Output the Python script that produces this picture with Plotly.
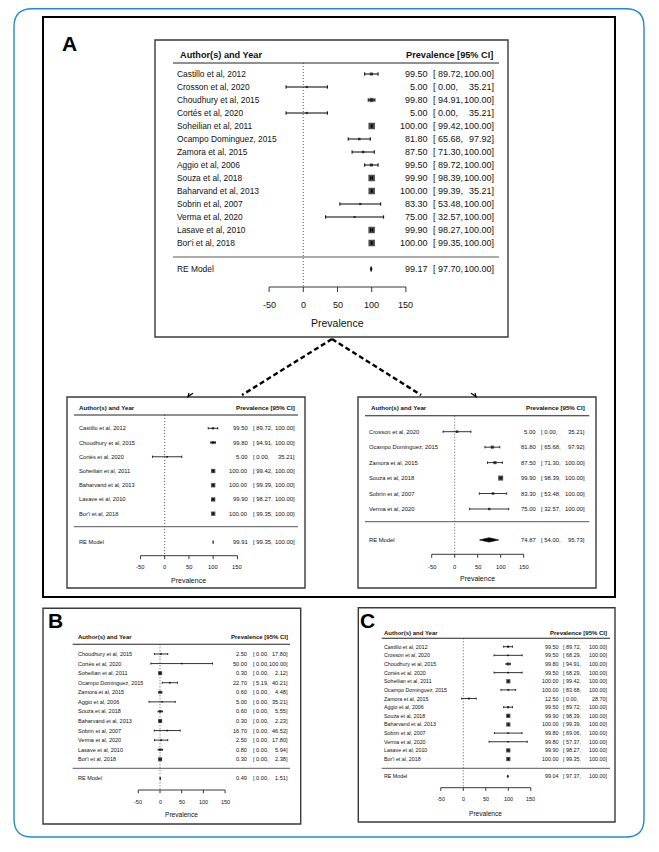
import plotly.graph_objects as go

W, H = 659, 852
FONT = "Liberation Sans, Arial, sans-serif"

# ---------------- data ----------------
axis_ticks = [-50, 0, 50, 100, 150]

a_studies = ["Castillo et al, 2012", "Crosson et al, 2020", "Choudhury et al, 2015", "Cortés et al, 2020",
             "Soheilian et al, 2011", "Ocampo Dominguez, 2015", "Zamora et al, 2015", "Aggio et al, 2006",
             "Souza et al, 2018", "Baharvand et al, 2013", "Sobrin et al, 2007", "Verma et al, 2020",
             "Lasave et al, 2010", "Bor'i et al, 2018"]
a_est = [99.50, 5.00, 99.80, 5.00, 100.00, 81.80, 87.50, 99.50, 99.90, 100.00, 83.30, 75.00, 99.90, 100.00]
a_lo = [89.72, 0.00, 94.91, 0.00, 99.42, 65.68, 71.30, 89.72, 98.39, 99.39, 53.48, 32.57, 98.27, 99.35]
a_hi = [100.00, 35.21, 100.00, 35.21, 100.00, 97.92, 100.00, 100.00, 100.00, 35.21, 100.00, 100.00, 100.00, 100.00]
a_re = (99.17, 97.70, 100.00)

l_studies = ["Castillo et al, 2012", "Choudhury et al, 2015", "Cortés et al, 2020", "Soheilian et al, 2011",
             "Baharvand et al, 2013", "Lasave et al, 2010", "Bor'i et al, 2018"]
l_est = [99.50, 99.80, 5.00, 100.00, 100.00, 99.90, 100.00]
l_lo = [89.72, 94.91, 0.00, 99.42, 99.39, 98.27, 99.35]
l_hi = [100.00, 100.00, 35.21, 100.00, 100.00, 100.00, 100.00]
l_re = (99.91, 99.35, 100.00)

r_studies = ["Crosson et al, 2020", "Ocampo Dominguez, 2015", "Zamora et al, 2015", "Souza et al, 2018",
             "Sobrin et al, 2007", "Verma et al, 2020"]
r_est = [5.00, 81.80, 87.50, 99.90, 83.30, 75.00]
r_lo = [0.00, 65.68, 71.30, 98.39, 53.48, 32.57]
r_hi = [35.21, 97.92, 100.00, 100.00, 100.00, 100.00]
r_re = (74.87, 54.00, 95.73)

b_studies = ["Choudhury et al, 2015", "Cortés et al, 2020", "Soheilian et al, 2011", "Ocampo Dominguez, 2015",
             "Zamora et al, 2015", "Aggio et al, 2006", "Souza et al, 2018", "Baharvand et al, 2013",
             "Sobrin et al, 2007", "Verma et al, 2020", "Lasave et al, 2010", "Bor'i et al, 2018"]
b_est = [2.50, 50.00, 0.30, 22.70, 0.60, 5.00, 0.60, 0.30, 16.70, 2.50, 0.80, 0.30]
b_lo = [0.00, 0.00, 0.00, 5.19, 0.00, 0.00, 0.00, 0.00, 0.00, 0.00, 0.00, 0.00]
b_hi = [17.80, 100.00, 2.12, 40.21, 4.48, 35.21, 5.55, 2.23, 46.52, 17.80, 5.94, 2.38]
b_re = (0.49, 0.00, 1.51)
# drawn (untruncated) half-width where the printed CI is clipped on both sides
b_drawn_halfwidth = {"Cortés et al, 2020": 71.0}

c_studies = list(a_studies)
c_est = [99.50, 99.50, 99.80, 99.50, 100.00, 100.00, 12.50, 99.50, 99.90, 100.00, 99.80, 99.80, 99.90, 100.00]
c_lo = [89.72, 68.29, 94.91, 68.29, 99.42, 83.68, 0.00, 89.72, 98.39, 99.39, 69.06, 57.37, 98.27, 99.35]
c_hi = [100.00, 100.00, 100.00, 100.00, 100.00, 100.00, 28.70, 100.00, 100.00, 100.00, 100.00, 100.00, 100.00, 100.00]
c_re = (99.04, 97.37, 100.00)

# ---------------- layout geometry (pixels) ----------------
GEOM = {
    "T": dict(box=(155, 40, 508, 337), zero=303.3, px50=34.2, row0=74.0, rowh=13.0,
              head_y=55, hline_y=63, line_x=(173, 499), name_x=176, head_l=179, head_r=494,
              est_r=429, lb_x=432, rb_x=495, sep_y=257, axis_y=287, tick=5, ticklab_y=305, title_y=323,
              fs=8.4, vfs=9.0, hfs=9.2, afs=9.0, tfs=10.5, ciw=1.0, cap=1.7, smin=1.8, k=12, smax=6.5, dh=2.6),
    "L": dict(box=(67, 397, 305, 588), zero=164.7, px50=24.25, row0=428.3, rowh=14.23,
              head_y=407.7, hline_y=415, line_x=(74, 298), name_x=77.7, head_l=77.7, head_r=295.7,
              est_r=249, lb_x=251.5, rb_x=295.5, sep_y=526.7, axis_y=555.7, tick=3.5, ticklab_y=567.3, title_y=580,
              fs=5.7, vfs=5.9, hfs=6.2, afs=5.8, tfs=7.0, ciw=0.8, cap=1.2, smin=1.5, k=8, smax=4.3, dh=1.6),
    "R": dict(box=(358, 397, 596, 588), zero=454.7, px50=23.0, row0=431.7, rowh=15.46,
              head_y=407.7, hline_y=415.7, line_x=(365, 589.3), name_x=368.3, head_l=370, head_r=585.7,
              est_r=536.7, lb_x=540, rb_x=585.7, sep_y=521.7, axis_y=554.3, tick=3.5, ticklab_y=566.7, title_y=578.3,
              fs=5.8, vfs=5.9, hfs=6.2, afs=5.8, tfs=7.0, ciw=0.8, cap=1.2, smin=2.0, k=18, smax=5.0, dh=2.2),
    "B": dict(box=(43, 608.3, 300.7, 824), zero=160.0, px50=21.7, row0=654.0, rowh=9.57,
              head_y=637.3, hline_y=644.3, line_x=(72.7, 290), name_x=76.7, head_l=76.7, head_r=289.3,
              est_r=248.3, lb_x=251.5, rb_x=289.3, sep_y=768.3, axis_y=790, tick=3.2, ticklab_y=801.7, title_y=814.3,
              fs=5.5, vfs=5.6, hfs=6.0, afs=5.5, tfs=6.6, ciw=0.8, cap=1.0, smin=1.5, k=6, smax=4.0, dh=1.4),
    "C": dict(box=(358.3, 607.7, 615, 822), zero=463.3, px50=22.5, row0=646.7, rowh=8.64,
              head_y=633.3, hline_y=638.3, line_x=(381.7, 610), name_x=383.3, head_l=383.3, head_r=608.3,
              est_r=560, lb_x=562.3, rb_x=608.3, sep_y=768.3, axis_y=787.7, tick=3.2, ticklab_y=799.3, title_y=813.3,
              fs=5.3, vfs=5.4, hfs=6.0, afs=5.5, tfs=6.6, ciw=0.8, cap=1.0, smin=1.5, k=7, smax=4.2, dh=1.4),
}


def fx(px):
    return px / W


def fy(py):
    return 1 - py / H


fig = go.Figure()
shapes = []
annotations = []
axes = {}


def text(t, x, y, size, anchor="left", bold=False, xref="paper", yref="paper", color="#111"):
    annotations.append(dict(text=f"<b>{t}</b>" if bold else t, x=x, y=y, xref=xref, yref=yref,
                            xanchor=anchor, yanchor="middle", showarrow=False, borderpad=0,
                            font=dict(family=FONT, size=size, color=color)))


def hline(xa, xb, y, color="#333", width=1.0, xref="paper", dash=None):
    d = dict(type="line", xref=xref, yref="paper", x0=xa, x1=xb, y0=fy(y), y1=fy(y),
             line=dict(color=color, width=width))
    if dash:
        d["line"]["dash"] = dash
    shapes.append(d)


def forest(i, studies, est, lo, hi, re, g, hw_override=None):
    xr = "x" if i == 1 else f"x{i}"
    yr = "y" if i == 1 else f"y{i}"
    suf = "" if i == 1 else str(i)
    x0, y0, x1, y1 = g["box"]
    ppu = g["px50"] / 50.0
    row0, rowh = g["row0"], g["rowh"]
    axes[f"xaxis{suf}"] = dict(domain=[fx(x0), fx(x1)], range=[(x0 - g["zero"]) / ppu, (x1 - g["zero"]) / ppu],
                               visible=False, fixedrange=True, anchor=yr)
    axes[f"yaxis{suf}"] = dict(domain=[fy(y1), fy(y0)], range=[(y1 - row0) / rowh, (y0 - row0) / rowh],
                               visible=False, fixedrange=True, anchor=xr)

    # panel frame
    shapes.append(dict(type="rect", xref="paper", yref="paper", x0=fx(x0), x1=fx(x1), y0=fy(y1), y1=fy(y0),
                       line=dict(color="#3a3a3a", width=1.4), fillcolor="white", layer="below"))
    # header
    text("Author(s) and Year", fx(g["head_l"]), fy(g["head_y"]), g["hfs"], "left", True)
    text("Prevalence [95% CI]", fx(g["head_r"]), fy(g["head_y"]), g["hfs"], "right", True)
    hline(fx(g["line_x"][0]), fx(g["line_x"][1]), g["hline_y"], "#222", 1.1)
    hline(fx(g["line_x"][0]), fx(g["line_x"][1]), g["sep_y"], "#444", 0.9)

    n = len(studies)
    rows = list(range(n))
    hw = []
    for s, e, l, h in zip(studies, est, lo, hi):
        w = max(e - l, h - e)
        if hw_override and s in hw_override:
            w = hw_override[s]
        hw.append(w)
    sizes = [min(g["smax"], g["smin"] + g["k"] / w) for w in hw]

    # null line
    shapes.append(dict(type="line", xref=xr, yref="paper", x0=0, x1=0, y0=fy(g["hline_y"]), y1=fy(g["axis_y"]),
                       line=dict(color="#333", width=0.8, dash="1px,2px")))

    fig.add_trace(go.Scatter(
        x=est, y=rows, xaxis=xr, yaxis=yr, mode="markers", cliponaxis=False, hoverinfo="skip",
        marker=dict(symbol="square", size=sizes, color="black", line=dict(width=0)),
        error_x=dict(type="data", symmetric=True, array=hw, color="black", thickness=g["ciw"], width=g["cap"])))

    # summary diamond
    re_est, re_lo, re_hi = re
    re_hw = max(re_est - re_lo, re_hi - re_est)
    ry = n + 1
    d = g["dh"] / rowh
    fig.add_trace(go.Scatter(
        x=[re_est - re_hw, re_est, re_est + re_hw, re_est, re_est - re_hw],
        y=[ry, ry - d, ry, ry + d, ry], xaxis=xr, yaxis=yr, mode="lines", fill="toself",
        fillcolor="black", line=dict(color="black", width=0.6), hoverinfo="skip", cliponaxis=False))

    # row labels and values
    for r, s, e, l, h in zip(rows, studies, est, lo, hi):
        text(s, fx(g["name_x"]), r, g["fs"], "left", yref=yr)
        text(f"{e:.2f}", fx(g["est_r"]), r, g["vfs"], "right", yref=yr)
        text(f"[ {l:.2f},", fx(g["lb_x"]), r, g["vfs"], "left", yref=yr)
        text(f"{h:.2f}]", fx(g["rb_x"]), r, g["vfs"], "right", yref=yr)
    text("RE Model", fx(g["name_x"]), ry, g["fs"], "left", yref=yr)
    text(f"{re_est:.2f}", fx(g["est_r"]), ry, g["vfs"], "right", yref=yr)
    text(f"[ {re_lo:.2f},", fx(g["lb_x"]), ry, g["vfs"], "left", yref=yr)
    text(f"{re_hi:.2f}]", fx(g["rb_x"]), ry, g["vfs"], "right", yref=yr)

    # axis
    hline(axis_ticks[0], axis_ticks[-1], g["axis_y"], "#222", 0.9, xref=xr)
    for t in axis_ticks:
        shapes.append(dict(type="line", xref=xr, yref="paper", x0=t, x1=t, y0=fy(g["axis_y"]),
                           y1=fy(g["axis_y"] + g["tick"]), line=dict(color="#222", width=0.9)))
        text(str(t), t, fy(g["ticklab_y"]), g["afs"], "center", xref=xr)
    text("Prevalence", (axis_ticks[0] + axis_ticks[-1]) / 2, fy(g["title_y"]), g["tfs"], "center", xref=xr)


# outer rounded blue frame
bx0, by0, bx1, by1, rad = 14, 8.7, 644, 837, 18
path = (f"M {fx(bx0 + rad)},{fy(by0)} L {fx(bx1 - rad)},{fy(by0)} Q {fx(bx1)},{fy(by0)} {fx(bx1)},{fy(by0 + rad)} "
        f"L {fx(bx1)},{fy(by1 - rad)} Q {fx(bx1)},{fy(by1)} {fx(bx1 - rad)},{fy(by1)} "
        f"L {fx(bx0 + rad)},{fy(by1)} Q {fx(bx0)},{fy(by1)} {fx(bx0)},{fy(by1 - rad)} "
        f"L {fx(bx0)},{fy(by0 + rad)} Q {fx(bx0)},{fy(by0)} {fx(bx0 + rad)},{fy(by0)} Z")
shapes.append(dict(type="path", xref="paper", yref="paper", path=path,
                   line=dict(color="#2189d3", width=1.4), layer="below"))

# panel A outer box
shapes.append(dict(type="rect", xref="paper", yref="paper", x0=fx(43), x1=fx(615), y0=fy(597), y1=fy(17),
                   line=dict(color="black", width=2), layer="below"))

# dashed connectors
for (xa, ya, xb, yb) in [(332, 339, 242, 395), (332, 339, 421, 395)]:
    shapes.append(dict(type="line", xref="paper", yref="paper", x0=fx(xa), y0=fy(ya), x1=fx(xb), y1=fy(yb),
                       line=dict(color="black", width=2.4, dash="5px,3px")))
for pts in [[(193, 393.3), (188, 396.6), (189, 393.0)], [(471, 393.3), (476, 396.6), (475, 393.0)]]:
    p = "M " + " L ".join(f"{fx(a)},{fy(b)}" for a, b in pts)
    shapes.append(dict(type="path", xref="paper", yref="paper", path=p, line=dict(color="black", width=1.2)))

forest(1, a_studies, a_est, a_lo, a_hi, a_re, GEOM["T"])
forest(2, l_studies, l_est, l_lo, l_hi, l_re, GEOM["L"])
forest(3, r_studies, r_est, r_lo, r_hi, r_re, GEOM["R"])
forest(4, b_studies, b_est, b_lo, b_hi, b_re, GEOM["B"], b_drawn_halfwidth)
forest(5, c_studies, c_est, c_lo, c_hi, c_re, GEOM["C"])

# panel letters
text("A", fx(69), fy(43), 21, "center", True, color="black")
text("B", fx(55), fy(620), 21, "center", True, color="black")
text("C", fx(367), fy(620), 21, "center", True, color="black")

fig.update_layout(width=W, height=H, margin=dict(l=0, r=0, t=0, b=0), autosize=False,
                  paper_bgcolor="white", plot_bgcolor="rgba(0,0,0,0)", showlegend=False,
                  shapes=shapes, annotations=annotations, **axes)

fig.write_html("out.html", config={"displayModeBar": False, "staticPlot": True},
               post_script="document.body.style.margin='0';document.body.style.overflow='hidden';")
